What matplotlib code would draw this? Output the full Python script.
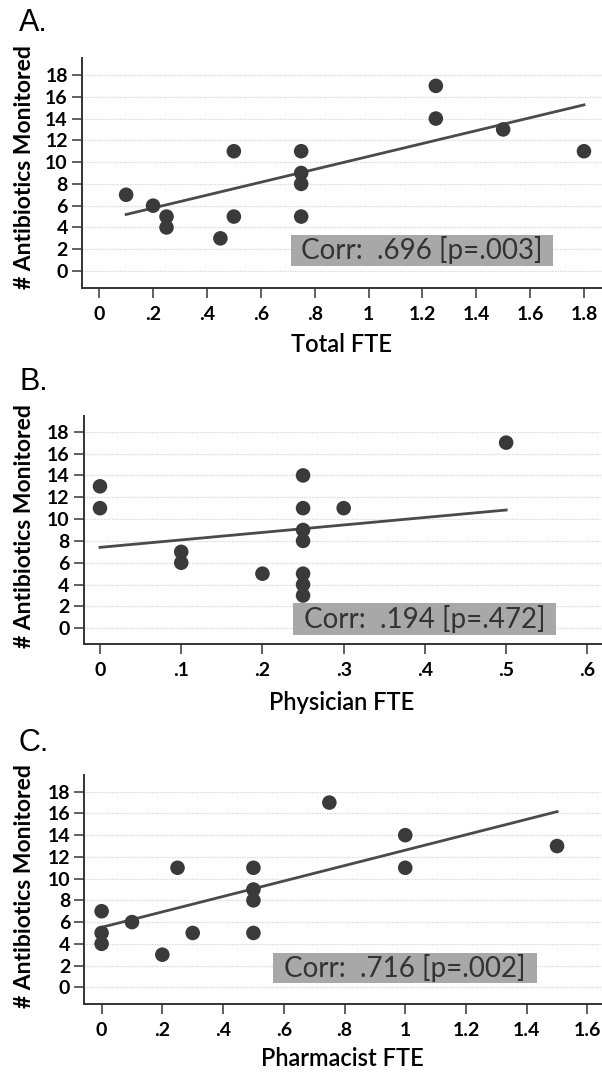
import matplotlib
matplotlib.use("Agg")
import matplotlib.pyplot as plt
import numpy as np
from matplotlib.ticker import FuncFormatter
from matplotlib.patches import Rectangle

plt.rcParams["font.family"] = ["Lato", "DejaVu Sans"]

# Panel A: total FTE
total_fte = [0.1, 0.2, 0.25, 0.25, 0.45, 0.5, 0.5, 0.75, 0.75, 0.75, 0.75, 1.25, 1.25, 1.5, 1.8]
total_abx = [7, 6, 5, 4, 3, 11, 5, 11, 9, 8, 5, 17, 14, 13, 11]
total_fit = (4.60, 5.92)  # intercept, slope

# Panel B: physician FTE
phys_fte = [0, 0, 0.1, 0.1, 0.2, 0.25, 0.25, 0.25, 0.25, 0.25, 0.25, 0.25, 0.3, 0.5]
phys_abx = [13, 11, 7, 6, 5, 14, 11, 9, 8, 5, 4, 3, 11, 17]
phys_fit = (7.41, 6.84)

# Panel C: pharmacist FTE
pharm_fte = [0, 0, 0, 0.1, 0.2, 0.25, 0.3, 0.5, 0.5, 0.5, 0.5, 0.75, 1.0, 1.0, 1.5]
pharm_abx = [7, 5, 4, 6, 3, 11, 5, 11, 9, 8, 5, 17, 14, 11, 13]
pharm_fit = (5.52, 7.10)

corr_labels = ["Corr:  .696 [p=.003]", "Corr:  .194 [p=.472]", "Corr:  .716 [p=.002]"]
x_labels = ["Total FTE", "Physician FTE", "Pharmacist FTE"]
panel_letters = ["A.", "B.", "C."]
y_ticks = list(range(0, 19, 2))
x_ticks = [np.arange(0, 1.81, 0.2), np.arange(0, 0.61, 0.1), np.arange(0, 1.61, 0.2)]

W, H = 602, 1073
fig = plt.figure(figsize=(W / 100, H / 100), dpi=100)


def px_axes(left, top, bottom):
    return fig.add_axes([left / W, 1 - bottom / H, (W - left) / W, (bottom - top) / H])


def short_fmt(v, _):
    s = f"{round(v, 2):g}"
    if s.startswith("0."):
        s = s[1:]
    return s


panels = [
    dict(x=total_fte, y=total_abx, fit=total_fit, box=(291, 235, 553, 266),
         ax=(81.7, 58, 288), xlim=(-0.065, 1.867), ylim=(-1.56, 19.56),
         letter_y=8, ylab_y=167, xlab_y=345),
    dict(x=phys_fte, y=phys_abx, fit=phys_fit, box=(293, 603, 556, 635),
         ax=(83.5, 416, 644), xlim=(-0.0203, 0.618), ylim=(-1.44, 19.44),
         letter_y=367, ylab_y=526, xlab_y=703),
    dict(x=pharm_fte, y=pharm_abx, fit=pharm_fit, box=(273, 953, 537, 983),
         ax=(84, 775, 1004), xlim=(-0.058, 1.648), ylim=(-1.54, 19.54),
         letter_y=728, ylab_y=886, xlab_y=1059),
]

dark = "#3a3a3a"
for i, p in enumerate(panels):
    ax = px_axes(*p["ax"])
    ax.set_xlim(*p["xlim"])
    ax.set_ylim(*p["ylim"])
    ax.set_yticks(y_ticks)
    ax.set_xticks(x_ticks[i])
    ax.xaxis.set_major_formatter(FuncFormatter(short_fmt))
    for s in ["top", "right"]:
        ax.spines[s].set_visible(False)
    for s in ["left", "bottom"]:
        ax.spines[s].set_color("#333333")
        ax.spines[s].set_linewidth(1.4)
    ax.tick_params(axis="both", length=7, width=1.2, color="#444444",
                   labelsize=14, labelcolor="black")
    ax.tick_params(axis="y", pad=3)
    ax.tick_params(axis="x", pad=6)
    for lab in ax.get_xticklabels() + ax.get_yticklabels():
        lab.set_fontweight("bold")
    ax.grid(axis="y", color="#d6d6d6", linewidth=0.9, linestyle=(0, (1, 1)))
    ax.set_axisbelow(True)

    # regression line over the observed x range
    xs = np.array([min(p["x"]), max(p["x"])])
    b0, b1 = p["fit"]
    ax.plot(xs, b0 + b1 * xs, color="#4a4a4a", linewidth=2.0, zorder=3)
    ax.scatter(p["x"], p["y"], s=110, color=dark, edgecolor="none", zorder=4)

    # correlation box
    x0, y0, x1, y1 = p["box"]
    fig.patches.append(Rectangle((x0 / W, 1 - y1 / H), (x1 - x0) / W, (y1 - y0) / H,
                                 transform=fig.transFigure, facecolor="#a8a8a8",
                                 edgecolor="none", zorder=5))
    fig.text((x0 + x1) / 2 / W, 1 - (y0 + y1) / 2 / H, corr_labels[i], ha="center",
             va="center", fontsize=20, color="#333333", zorder=6)

    fig.text(19 / W, 1 - p["letter_y"] / H, panel_letters[i], ha="left", va="top",
             fontsize=22, color="black", family=["Liberation Sans", "DejaVu Sans"])
    fig.text(25 / W, 1 - p["ylab_y"] / H, "# Antibiotics Monitored", rotation=90,
             ha="center", va="center", fontsize=16.5, fontweight="bold")
    fig.text(342 / W, 1 - p["xlab_y"] / H, x_labels[i], ha="center", va="center",
             fontsize=17, fontweight="semibold")

fig.savefig("out.png", dpi=100)
